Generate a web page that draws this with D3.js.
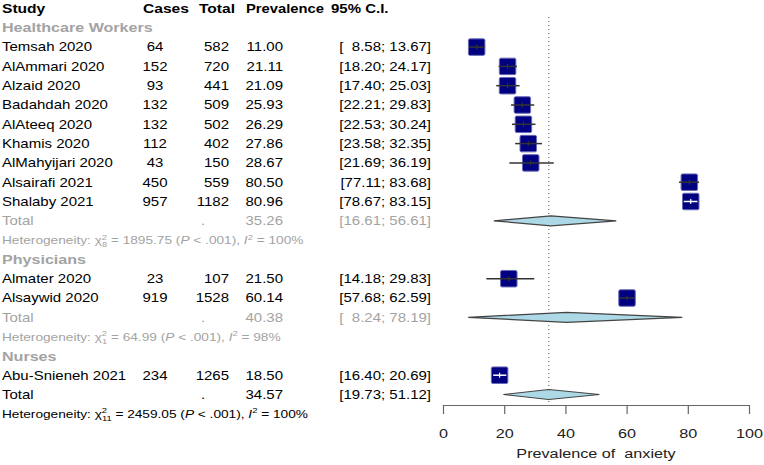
<!DOCTYPE html>
<html><head><meta charset="utf-8">
<script src="https://cdn.jsdelivr.net/npm/d3@7"></script>
<style>
html,body{margin:0;padding:0;background:#fff;}
svg{display:block;font-family:"Liberation Sans",Arial,sans-serif;}
</style></head>
<body>
<script>
// ---------- data ----------
const groups = ["Healthcare Workers", "Physicians", "Nurses"];
const studyNames = ["Temsah 2020","AlAmmari 2020","Alzaid 2020","Badahdah 2020","AlAteeq 2020","Khamis 2020","AlMahyijari 2020","Alsairafi 2021","Shalaby 2021","Almater 2020","Alsaywid 2020","Abu-Snieneh 2021"];
const studyGroup = ["Healthcare Workers","Healthcare Workers","Healthcare Workers","Healthcare Workers","Healthcare Workers","Healthcare Workers","Healthcare Workers","Healthcare Workers","Healthcare Workers","Physicians","Physicians","Nurses"];
const cases = [64,152,93,132,132,112,43,450,957,23,919,234];
const totals = [582,720,441,509,502,402,150,559,1182,107,1528,1265];
const prevalence = [11.00,21.11,21.09,25.93,26.29,27.86,28.67,80.50,80.96,21.50,60.14,18.50];
const lower = [8.58,18.20,17.40,22.21,22.53,23.58,21.69,77.11,78.67,14.18,57.68,16.40];
const upper = [13.67,24.17,25.03,29.83,30.24,32.35,36.19,83.68,83.15,29.83,62.59,20.69];
const groupPrev = [35.26, 40.38, null];
const groupLower = [16.61, 8.24, null];
const groupUpper = [56.61, 78.19, null];
const groupChi = [1895.75, 64.99, null];
const groupDf = [8, 1, null];
const groupI2 = [100, 98, null];
const overall = {prev: 34.57, lower: 19.73, upper: 51.12, chi: 2459.05, df: 11, i2: 100};
const xTicks = [0, 20, 40, 60, 80, 100];
const xLabel = "Prevalence of  anxiety";

// ---------- layout ----------
const W = 764, H = 465;
const GREY = "#a3a3a3";
const SX = 1.2;       // horizontal stretch of all text (reference is stretched)
const FS = 12.5;      // main font size
const FG = 13.4;      // group label font size
const FH = 11.4;      // heterogeneity font size
const svg = d3.select("body").append("svg").attr("width", W).attr("height", H);

// build row list
const rows = [{type: "header"}];
groups.forEach((g, gi) => {
  rows.push({type: "group", label: g});
  studyNames.forEach((s, i) => { if (studyGroup[i] === g) rows.push({type: "study", i}); });
  if (groupPrev[gi] != null) {
    rows.push({type: "subtotal", gi});
    rows.push({type: "subhet", gi});
  }
});
rows.push({type: "total"});
rows.push({type: "het"});

const y = d3.scalePoint().domain(d3.range(rows.length)).range([8.5, 8.5 + (rows.length - 1) * 19.3]);
const x = d3.scaleLinear().domain([0, 100]).range([443, 749]);

const col = {study: 2, cases: 155, total: 229, prev: 283, ci: 431};
const fmt2 = d3.format(".2f");
const ciStr = (l, u) => {
  const p = v => (v < 10 ? "  " : "") + fmt2(v);
  return "[" + p(l) + "; " + p(u) + "]";
};

function txt(g, xx, yy, s, opt = {}) {
  return g.append("text").attr("x", xx / SX).attr("y", yy).attr("dy", "0.35em")
    .attr("transform", `scale(${SX},1)`)
    .attr("text-anchor", opt.anchor || "start")
    .attr("font-size", opt.size || FS)
    .attr("font-weight", opt.bold ? "bold" : "normal")
    .attr("fill", opt.fill || "#000")
    .style("white-space", "pre")
    .text(s);
}

function hetText(g, yy, chi, df, i2, fill) {
  const t = g.append("text").attr("x", 2 / SX).attr("y", yy).attr("dy", "0.35em")
    .attr("transform", `scale(${SX},1)`)
    .attr("font-size", FH).attr("fill", fill).style("white-space", "pre");
  t.append("tspan").text("Heterogeneity: \u03C7");
  t.append("tspan").attr("font-size", 7.8).attr("dy", -4.5).text("2");
  t.append("tspan").attr("font-size", 7.8).attr("dx", -4.3).attr("dy", 7.5).text(String(df));
  t.append("tspan").attr("dy", -3).text(" = " + fmt2(chi) + " (");
  t.append("tspan").attr("font-style", "italic").text("P");
  t.append("tspan").text(" < .001), ");
  t.append("tspan").attr("font-style", "italic").text("I");
  t.append("tspan").attr("font-size", 7.8).attr("dy", -4.5).text("2");
  t.append("tspan").attr("dy", 4.5).text(" = " + i2 + "%");
}

const gText = svg.append("g");
const gPlot = svg.append("g");

// dotted reference line (overall estimate)
gPlot.append("line")
  .attr("x1", x(overall.prev)).attr("x2", x(overall.prev))
  .attr("y1", 17).attr("y2", 405)
  .attr("stroke", "#555").attr("stroke-width", 1).attr("stroke-dasharray", "1,3");

function diamond(yy, l, m, u) {
  const h = 5;
  gPlot.append("path")
    .attr("d", `M${x(l)},${yy}L${x(m)},${yy - h}L${x(u)},${yy}L${x(m)},${yy + h}Z`)
    .attr("fill", "#add8e6").attr("stroke", "#444").attr("stroke-width", 1.2);
}

const SQ = 16.5;
rows.forEach((r, ri) => {
  const yy = y(ri);
  if (r.type === "header") {
    txt(gText, col.study, yy, "Study", {bold: true, size: 13});
    txt(gText, 143, yy, "Cases", {bold: true, size: 13});
    txt(gText, 199, yy, "Total", {bold: true, size: 13});
    txt(gText, 246, yy, "Prevalence", {bold: true, size: 12.3});
    txt(gText, 331, yy, "95% C.I.", {bold: true});
  } else if (r.type === "group") {
    txt(gText, col.study, yy, r.label, {bold: true, fill: GREY, size: FG});
  } else if (r.type === "study") {
    const i = r.i;
    txt(gText, col.study, yy, studyNames[i]);
    txt(gText, col.cases, yy, String(cases[i]), {anchor: "middle"});
    txt(gText, col.total, yy, String(totals[i]), {anchor: "end"});
    txt(gText, col.prev, yy, fmt2(prevalence[i]), {anchor: "end"});
    txt(gText, col.ci, yy, ciStr(lower[i], upper[i]), {anchor: "end"});
    const cx = x(prevalence[i]);
    gPlot.append("rect")
      .attr("x", cx - SQ / 2).attr("y", yy - SQ / 2).attr("width", SQ).attr("height", SQ)
      .attr("rx", 1.5).attr("fill", "#000080").attr("stroke", "#6a6ab8").attr("stroke-width", 1);
    const inside = (x(upper[i]) - x(lower[i])) < SQ - 2;
    const lc = inside ? "#fff" : "#333";
    gPlot.append("line").attr("x1", x(lower[i])).attr("x2", x(upper[i]))
      .attr("y1", yy).attr("y2", yy).attr("stroke", lc).attr("stroke-width", 1.5);
    gPlot.append("line").attr("x1", cx).attr("x2", cx)
      .attr("y1", yy - 2.5).attr("y2", yy + 2.5).attr("stroke", lc).attr("stroke-width", 1.2);
  } else if (r.type === "subtotal") {
    const gi = r.gi;
    txt(gText, col.study, yy, "Total", {fill: GREY});
    txt(gText, 201, yy, ".", {fill: GREY});
    txt(gText, col.prev, yy, fmt2(groupPrev[gi]), {anchor: "end", fill: GREY});
    txt(gText, col.ci, yy, ciStr(groupLower[gi], groupUpper[gi]), {anchor: "end", fill: GREY});
    diamond(yy, groupLower[gi], groupPrev[gi], groupUpper[gi]);
  } else if (r.type === "subhet") {
    const gi = r.gi;
    hetText(gText, yy, groupChi[gi], groupDf[gi], groupI2[gi], GREY);
  } else if (r.type === "total") {
    txt(gText, col.study, yy, "Total");
    txt(gText, 201, yy, ".");
    txt(gText, col.prev, yy, fmt2(overall.prev), {anchor: "end"});
    txt(gText, col.ci, yy, ciStr(overall.lower, overall.upper), {anchor: "end"});
    diamond(yy, overall.lower, overall.prev, overall.upper);
  } else if (r.type === "het") {
    hetText(gText, yy, overall.chi, overall.df, overall.i2, "#000");
  }
});

// axis
const axis = d3.axisBottom(x).tickValues(xTicks).tickSize(9).tickSizeOuter(0).tickPadding(14)
  .tickFormat(d3.format("d"));
const gA = svg.append("g").attr("transform", "translate(0,405)").call(axis);
gA.select(".domain").attr("stroke", "#666").attr("stroke-width", 1.2);
gA.selectAll(".tick line").attr("stroke", "#666").attr("stroke-width", 1.2);
gA.selectAll(".tick text").attr("font-size", 13.5).attr("fill", "#222")
  .attr("font-family", "Liberation Sans, Arial, sans-serif")
  .attr("x", 0)
  .attr("transform", `scale(${SX},1)`);

svg.append("text").attr("x", (x(0) + x(100)) / 2 / SX).attr("y", 453).attr("dy", "0.35em")
  .attr("transform", `scale(${SX},1)`)
  .attr("text-anchor", "middle").attr("font-size", 13.5).attr("fill", "#222")
  .style("white-space", "pre").text(xLabel);
</script>
</body></html>
